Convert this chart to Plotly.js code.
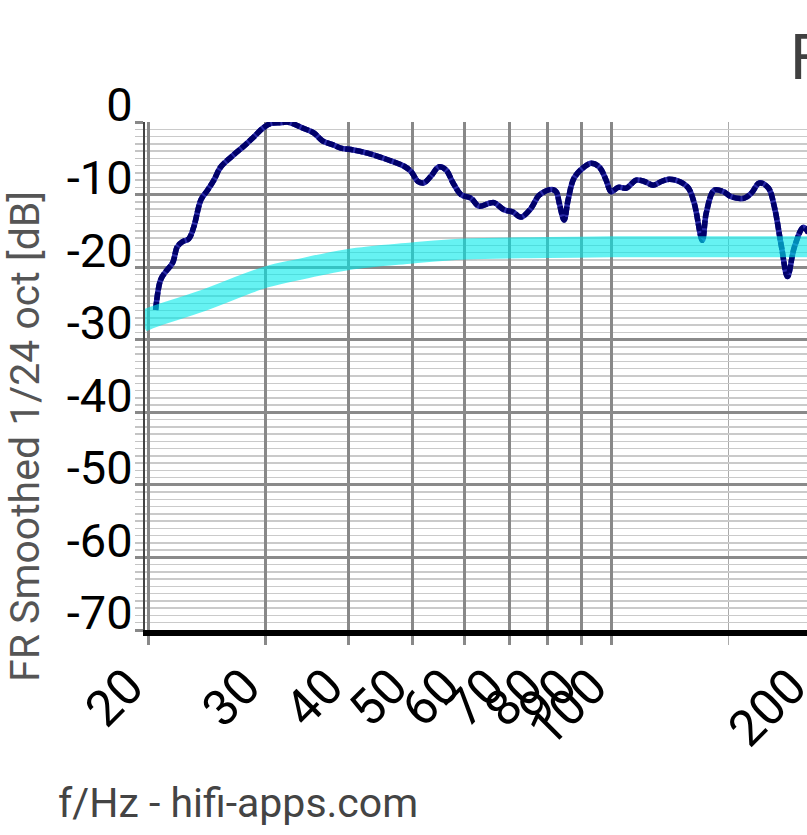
<!DOCTYPE html>
<html>
<head>
<meta charset="utf-8">
<script src="https://cdn.plot.ly/plotly-3.0.1.min.js"></script>
<style>
html, body { margin: 0; padding: 0; overflow: hidden; background: #fff; width: 807px; height: 835px; }
#chart { width: 2200px; height: 835px; }
</style>
</head>
<body>
<div id="chart"></div>
<script>
// Measured response (Hz, dB)
const respFreq = [20.5, 20.85, 21.2, 21.75, 22.1, 22.5, 23.0, 23.4, 24.0, 24.55, 25.1, 25.7, 26.9, 27.8, 28.8, 29.8, 30.6, 31.7, 32.4, 34.3, 35.5, 36.6, 38.1, 39.0, 40.4, 42.8, 45.9, 48.6, 49.75, 51.0, 52.0, 53.3, 54.8, 56.2, 57.6, 59.2, 61.3, 63.0, 65.3, 66.4, 68.75, 70.9, 72.9, 75.5, 77.65, 81.0, 82.4, 83.3, 84.7, 85.9, 87.7, 90.8, 93.05, 95.7, 98.0, 99.7, 102.2, 105.1, 108.8, 111.9, 115.4, 118.7, 122.0, 126.4, 130.4, 133.1, 136.9, 138.8, 142.7, 147.3, 151.4, 158.4, 162.3, 166.9, 172.2, 175.8, 180.2, 184.0, 188.5, 194.5, 197.9];
const respDb = [-25.9, -21.8, -20.7, -19.4, -17.2, -16.5, -16.1, -14.5, -10.7, -9.4, -8.0, -6.2, -4.5, -3.4, -2.1, -0.8, -0.2, -0.1, 0.0, -0.9, -1.5, -2.6, -3.2, -3.6, -3.8, -4.3, -5.2, -6.1, -6.8, -8.2, -8.4, -7.5, -6.2, -6.6, -8.4, -10.0, -10.5, -11.6, -11.2, -11.1, -12.1, -12.4, -13.1, -11.9, -10.1, -9.3, -9.6, -11.2, -13.5, -10.7, -7.7, -6.2, -5.7, -6.2, -8.0, -9.6, -9.0, -9.1, -8.0, -8.2, -8.7, -8.2, -7.9, -8.2, -9.1, -11.2, -16.3, -12.5, -9.4, -9.6, -10.3, -10.5, -9.8, -8.4, -9.1, -11.7, -17.2, -21.3, -17.2, -14.5, -15.3];

// Target band (Hz, dB)
const bandFreq = [19.5, 20, 24, 30, 34, 40, 50, 60, 80, 100, 150, 220];
const bandDb = [-27.6, -27.1, -24.7, -21.4, -20.25, -18.95, -18.05, -17.5, -17.3, -17.2, -17.2, -17.2];

// Axis ticks
const xTickVals = [20, 30, 40, 50, 60, 70, 80, 90, 100, 200, 300, 400, 500, 600, 700, 800, 900, 1000, 2000, 3000, 4000, 5000, 10000, 20000];
const xTickText = ['20', '30', '40', '50', '60', '70', '80', '90', '100', '200', '300', '400', '500', '600', '700', '800', '900', '1000', '2000', '3000', '4000', '5000', '10000', '20000'];
const xMinorVals = [150, 1500, 15000];
const yTickVals = [0, -10, -20, -30, -40, -50, -60, -70];
const yTickText = ['0', '-10', '-20', '-30', '-40', '-50', '-60', '-70'];

const W = 2200, H = 835, ML = 145, MR = 60, MT = 122, MB = 205;
const plotW = W - ML - MR, plotH = H - MT - MB;
const xStart = Math.log10(20) - 3.5 / 663;
const xEnd = xStart + plotW / 663;

const traces = [
  { x: respFreq, y: respDb, type: 'scatter', mode: 'lines',
    line: { color: '#2a2aa8', width: 5.5, shape: 'spline', smoothing: 1, simplify: false }, hoverinfo: 'skip' },
  { x: respFreq, y: respDb, type: 'scatter', mode: 'lines',
    line: { color: '#00006a', width: 5.5, shape: 'spline', smoothing: 1, simplify: false, dash: '8px,2px' }, hoverinfo: 'skip' },
  { x: bandFreq, y: bandDb, type: 'scatter', mode: 'lines',
    line: { color: 'rgba(0,234,234,0.6)', width: 21, shape: 'spline', smoothing: 1.1 }, hoverinfo: 'skip' }
];

const layout = {
  width: W, height: H,
  margin: { l: ML, r: MR, t: MT, b: MB, pad: 0 },
  paper_bgcolor: '#fff', plot_bgcolor: '#fff',
  showlegend: false,
  font: { family: 'Roboto, sans-serif', color: '#000' },
  title: { text: 'Frequency Response', font: { size: 63, color: '#404040', family: 'Roboto, sans-serif' },
    xref: 'container', x: 790 / W, xanchor: 'left', yref: 'container', y: 1 - 57 / H, yanchor: 'middle' },
  xaxis: {
    type: 'log', range: [xStart, xEnd],
    tickmode: 'array', tickvals: xTickVals, ticktext: xTickText, tickangle: -45,
    tickfont: { size: 50, color: '#000' },
    ticklabelshift: -20, ticklabelstandoff: -8,
    ticks: 'outside', ticklen: 9, tickwidth: 3, tickcolor: '#888',
    showgrid: true, gridcolor: '#888', gridwidth: 3,
    minor: { tickmode: 'array', tickvals: xMinorVals, ticks: 'outside', ticklen: 9, tickwidth: 1.5, tickcolor: '#aaa', showgrid: true, gridcolor: '#aaa', gridwidth: 1.5 },
    showline: true, linecolor: '#000', linewidth: 6,
    zeroline: false, fixedrange: true
  },
  yaxis: {
    range: [-70, 0],
    tickmode: 'array', tickvals: yTickVals, ticktext: yTickText,
    tickfont: { size: 47, color: '#000' },
    ticks: 'outside', ticklen: 8, tickwidth: 3, tickcolor: '#888',
    ticklabelshift: -17, ticklabelstandoff: -7,
    showgrid: true, gridcolor: '#8a8a8a', gridwidth: 3,
    minor: { dtick: 1, ticks: 'outside', ticklen: 8, tickwidth: 1.5, tickcolor: '#c4c4c4', showgrid: true, gridcolor: '#cacaca', gridwidth: 1.5 },
    showline: true, linecolor: '#444', linewidth: 2,
    zeroline: false, fixedrange: true
  },
  annotations: [
    { text: 'FR Smoothed 1/24 oct [dB]', textangle: -90, showarrow: false,
      xref: 'paper', x: (25 - ML) / plotW, xanchor: 'center',
      yref: 'paper', y: 1 - (437 - MT) / plotH, yanchor: 'middle',
      font: { size: 41, color: '#555', family: 'Roboto, sans-serif' } },
    { text: 'f/Hz - hifi-apps.com', showarrow: false,
      xref: 'paper', x: (56 - ML) / plotW, xanchor: 'left',
      yref: 'paper', y: (MT + plotH - 803) / plotH, yanchor: 'middle',
      font: { size: 41, color: '#444', family: 'Roboto, sans-serif' } }
  ]
};

Plotly.newPlot('chart', traces, layout, { staticPlot: true, displayModeBar: false });
</script>
</body>
</html>
